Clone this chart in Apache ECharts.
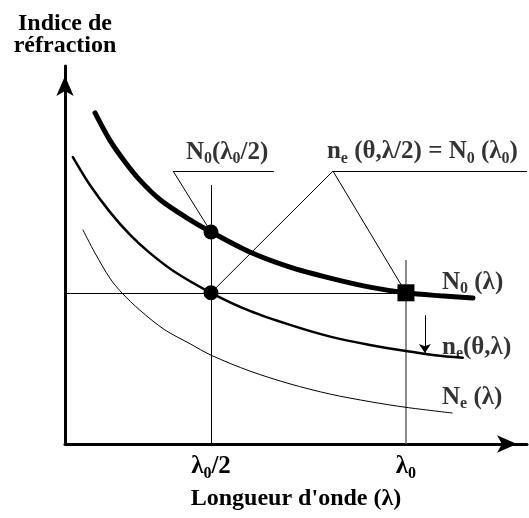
<!DOCTYPE html>
<html>
<head>
<meta charset="utf-8">
<script src="https://cdn.jsdelivr.net/npm/echarts@6/dist/echarts.min.js"></script>
<style>
  html, body { margin: 0; padding: 0; background: #fff; }
  #chart { width: 529px; height: 518px; }
</style>
</head>
<body>
<div id="chart"></div>
<script>
// Curves: [wavelength, index] in arbitrary 0-100 units
const n0Curve = [[6.5, 87.6], [9.7, 80.4], [13.0, 74.6], [16.2, 69.8], [20.6, 64.6], [26.0, 60.1], [31.6, 56.1],
  [40.0, 50.8], [48.7, 46.8], [57.4, 43.9], [66.0, 41.5], [73.8, 40.0], [81.2, 39.2], [88.3, 38.6]];
const neThetaCurve = [[1.7, 75.9], [5.4, 68.5], [9.7, 61.4], [14.1, 55.3], [18.4, 50.5], [23.8, 45.5], [31.6, 40.0],
  [40.0, 35.2], [48.7, 31.5], [57.4, 28.4], [66.0, 26.2], [73.8, 24.6], [80.1, 23.5], [86.1, 22.8]];
const neCurve = [[3.9, 56.6], [6.5, 50.5], [9.7, 43.9], [12.3, 40.0], [16.2, 35.4], [21.6, 30.2], [27.1, 26.5],
  [31.6, 23.5], [40.0, 19.3], [48.7, 15.9], [57.4, 13.2], [66.0, 11.2], [73.8, 9.7], [83.8, 8.2]];

// Marked points
const dotPoints = [[31.6, 56.1], [31.6, 40.0]];
const squarePoints = [[73.8, 40.0]];

// Ticks on the wavelength axis
const tickValues = [31.6, 73.8];
const tickLabels = ['λ_0/2', 'λ_0'];

// Guide lines, leaders, underlines and shift arrow
const guideLines = [[[31.6, 0], [31.6, 68.5]], [[0, 40.0], [73.8, 40.0]]];
const lambda0Line = [[[73.8, 0], [73.8, 48.7]]];
const leaderLines = [[[23.4, 72.2], [31.6, 56.1]], [[58.0, 72.2], [31.6, 40.0]], [[58.0, 72.2], [73.8, 40.0]],
  [[23.4, 72.2], [45.2, 72.2]], [[58.0, 72.2], [100, 72.2]]];
const shiftArrow = [[[77.9, 34.1], [77.9, 24.1]]];

// Annotation texts ("_x" = subscript)
const annoTexts = ['N_0(λ_0/2)', 'n_e (θ,λ/2) = N_0 (λ_0)', 'N_0 (λ)', 'n_e(θ,λ)', 'N_e (λ)'];

const FONT = 'Liberation Serif';
const richStyles = {
  m: { fontFamily: FONT, fontWeight: 'bold', fontSize: 25, lineHeight: 28, color: '#000' },
  s: { fontFamily: FONT, fontWeight: 'bold', fontSize: 16, lineHeight: 16, color: '#000', padding: [14, 0, 0, 0] }
};

// turn 'N_0(λ)' into rich text with subscripts
function toRich(str) {
  let out = '';
  let buf = '';
  for (let i = 0; i < str.length; i++) {
    if (str[i] === '_' && i + 1 < str.length) {
      if (buf) out += '{m|' + buf + '}';
      buf = '';
      out += '{s|' + str[i + 1] + '}';
      i++;
    } else {
      buf += str[i];
    }
  }
  if (buf) out += '{m|' + buf + '}';
  return out;
}

const chart = echarts.init(document.getElementById('chart'));

const segSeries = (data, color, width, extra) => Object.assign({
  type: 'lines',
  coordinateSystem: 'cartesian2d',
  polyline: false,
  silent: true,
  symbol: ['none', 'none'],
  lineStyle: { color: color, width: width, opacity: 1 },
  data: data.map(c => ({ coords: c }))
}, extra || {});

const curve = (name, data, width) => ({
  name: name, type: 'line', data: data, smooth: 0.3, showSymbol: false, silent: true,
  lineStyle: { color: '#000', width: width, cap: 'round' }
});

const anno = (value, text, align) => ({
  value: value,
  label: { formatter: toRich(text), align: align }
});

const axisLine = {
  show: true,
  symbol: ['none', 'arrow'],
  symbolSize: [13, 20],
  symbolOffset: [0, -10],
  lineStyle: { color: '#000', width: 3 }
};

const option = {
  animation: false,
  backgroundColor: '#fff',
  grid: { left: 65, right: 2, top: 66, bottom: 74 },
  xAxis: {
    type: 'value',
    min: 0,
    max: 100,
    name: "Longueur d'onde (λ)",
    nameLocation: 'middle',
    nameGap: 43,
    nameTextStyle: { fontFamily: FONT, fontWeight: 'bold', fontSize: 24, color: '#000' },
    axisLine: axisLine,
    axisTick: { show: false },
    splitLine: { show: false },
    axisLabel: {
      customValues: tickValues,
      margin: 9,
      formatter: function (v) {
        const i = tickValues.indexOf(v);
        return i >= 0 ? toRich(tickLabels[i]) : '';
      },
      rich: richStyles
    }
  },
  yAxis: {
    type: 'value',
    min: 0,
    max: 100,
    name: 'Indice de\nréfraction',
    nameLocation: 'end',
    nameGap: 9,
    nameTextStyle: { fontFamily: FONT, fontWeight: 'bold', fontSize: 24, lineHeight: 22, color: '#000', align: 'center' },
    axisLine: axisLine,
    axisTick: { show: false },
    splitLine: { show: false },
    axisLabel: { show: false }
  },
  series: [
    segSeries(guideLines, '#000', 1),
    segSeries(lambda0Line, '#666', 1.5),
    segSeries(leaderLines, '#000', 1),
    segSeries(shiftArrow, '#000', 1, { symbol: ['none', 'arrow'], symbolSize: 9 }),
    curve('Ne', neCurve, 1),
    curve('ne(theta)', neThetaCurve, 2.5),
    curve('N0', n0Curve, 5),
    {
      type: 'scatter', data: dotPoints, symbol: 'circle', symbolSize: 15,
      itemStyle: { color: '#000', opacity: 1 }, silent: true
    },
    {
      type: 'scatter', data: squarePoints, symbol: 'rect', symbolSize: 17,
      itemStyle: { color: '#000', opacity: 1 }, silent: true
    },
    {
      type: 'scatter',
      symbolSize: 0,
      silent: true,
      label: { show: true, position: [0, 0], verticalAlign: 'middle', rich: richStyles },
      data: [
        anno([35.1, 77.2], annoTexts[0], 'center'),
        anno([56.7, 77.4], annoTexts[1], 'left'),
        anno([81.6, 42.8], annoTexts[2], 'left'),
        anno([81.6, 25.6], annoTexts[3], 'left'),
        anno([81.6, 12.4], annoTexts[4], 'left')
      ]
    }
  ]
};

chart.setOption(option);
</script>
</body>
</html>
